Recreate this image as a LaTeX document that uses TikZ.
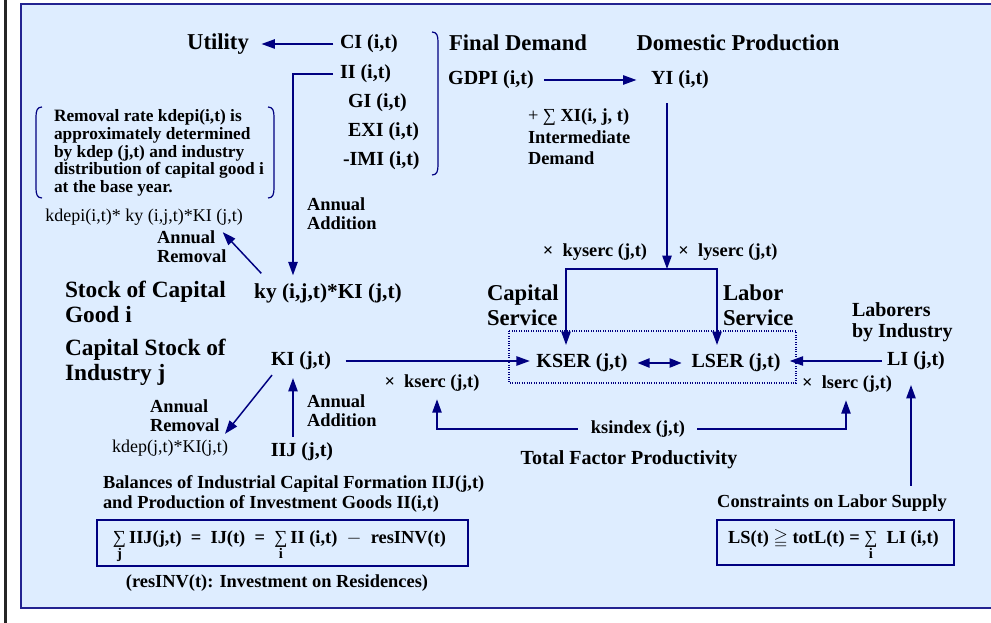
\documentclass[tikz,border=0pt]{standalone}
\usepackage{amsmath,amssymb}
\usepackage{fontspec}
\setmainfont{Liberation Serif}
\usetikzlibrary{arrows.meta,calc}
\definecolor{panelbg}{RGB}{222,237,255}
\definecolor{navyline}{RGB}{0,0,128}
\definecolor{panelborder}{RGB}{35,35,145}
\newcommand\sumlim[1]{\begin{tabular}[t]{@{}c@{}}{\mdseries ∑}\\[-3pt]{\fontsize{11}{11}\selectfont #1}\end{tabular}}
\begin{document}
\begin{tikzpicture}[x=0.75pt,y=-0.75pt,
  every node/.style={inner sep=0pt, outer sep=0pt, text=black},
  big/.style={font=\fontsize{17}{18.75}\selectfont\bfseries},
  mid/.style={font=\fontsize{15}{15.75}\selectfont\bfseries},
  sm/.style={font=\fontsize{13.8}{14.25}\selectfont\bfseries},
  rg/.style={font=\fontsize{13.5}{15}\selectfont},
  ln/.style={draw=navyline, line width=1.1pt},
  arr/.style={ln, -{Triangle[length=10pt,width=7pt]}},
  dbl/.style={ln, {Triangle[length=9pt,width=7pt]}-{Triangle[length=9pt,width=7pt]}},
  brk/.style={draw=navyline, line width=0.9pt},
  fbox/.style={draw=navyline, line width=1.1pt, inner sep=0pt}
]
\useasboundingbox (0,0) rectangle (991,623);
\fill[white] (0,0) rectangle (991,623);
\fill[black!85] (3.5,0) rectangle (6.5,623);
\fill[panelbg] (21,4) rectangle (995,608);
\draw[panelborder, line width=1.5pt] (995,4) -- (21,4) -- (21,608) -- (995,608);

% top block
\node[big] (util) at (218,44) {Utility};
\node[mid, anchor=west] (ci) at (340,44) {CI (i,t)};
\node[mid, anchor=west] (ii) at (340,74) {II (i,t)};
\node[mid, anchor=west] (gi) at (348,103) {GI (i,t)};
\node[mid, anchor=west] (exi) at (348,132) {EXI (i,t)};
\node[mid, anchor=west] (imi) at (343,161) {-IMI (i,t)};
\draw[brk] (432,32) .. controls (437,32) and (438,36) .. (438,42) -- (438,165) .. controls (438,171) and (437,175) .. (432,175);

\node[big] (fd) at (518,43) {Final Demand};
\node[big] (dp) at (738,43) {Domestic Production};
\node[mid] (gdpi) at (491,80) {GDPI (i,t)};
\node[mid] (yi) at (680,80) {YI (i,t)};
\node[anchor=west, align=left, font=\fontsize{13.8}{16}\selectfont\bfseries] (xi) at (528,137) {{\mdseries + ∑} XI(i, j, t)\\Intermediate\\Demand};

% note
\node[anchor=west, align=left, font=\fontsize{13}{13.35}\selectfont\bfseries] (note) at (54,153) {Removal rate kdepi(i,t) is\\approximately determined\\by kdep (j,t) and industry\\distribution of capital good i\\at the base year.};
\draw[brk] (42,107) .. controls (37,107) and (36,111) .. (36,117) -- (36,188) .. controls (36,194) and (37,198) .. (42,198);
\draw[brk] (268,107) .. controls (273,107) and (274,111) .. (274,117) -- (274,188) .. controls (274,194) and (273,198) .. (268,198);

\node[rg] (kdepi) at (144,217) {kdepi(i,t)* ky (i,j,t)*KI (j,t)};
\node[sm, anchor=west, align=left] (ar1) at (157,247) {Annual\\Removal};
\node[sm, anchor=west, align=left] (aa1) at (307,214) {Annual\\Addition};
\node[big, anchor=west, align=left, font=\fontsize{17.5}{18.75}\selectfont\bfseries] (sog) at (65,302) {Stock of Capital\\Good i};
\node[font=\fontsize{16}{17}\selectfont\bfseries] (ky) at (328,293) {ky (i,j,t)*KI (j,t)};
\node[big, anchor=west, align=left, font=\fontsize{17.5}{18.75}\selectfont\bfseries] (csi) at (65,362) {Capital Stock of\\Industry j};
\node[mid] (ki) at (301,361) {KI (j,t)};
\node[sm, anchor=west, align=left] (ar2) at (150,416) {Annual\\Removal};
\node[sm, anchor=west, align=left] (aa2) at (307,411) {Annual\\Addition};
\node[rg] (kdep) at (170,448) {kdep(j,t)*KI(j,t)};
\node[mid] (iij) at (302,452) {IIJ (j,t)};

% services
\node[sm] (kserc) at (432,383) {×\hspace{0.5em}kserc (j,t)};
\node[sm] (ksindex) at (638,429) {ksindex (j,t)};
\node[mid] (tfp) at (629,460) {Total Factor Productivity};
\node[big, anchor=west, align=left] (capsrv) at (487,305) {Capital\\Service};
\node[big, anchor=west, align=left] (labsrv) at (723,305) {Labor\\Service};
\node[sm] (kyserc) at (595,252) {×\hspace{0.5em}kyserc (j,t)};
\node[sm] (lyserc) at (728,252) {×\hspace{0.5em}lyserc (j,t)};
\node[mid] (kser) at (582,363) {KSER (j,t)};
\node[mid] (lser) at (736,363) {LSER (j,t)};
\draw[navyline, densely dotted, line width=0.8pt] (509,331) rectangle (796,383);
\node[mid, anchor=west, align=left] (lbi) at (852,322) {Laborers\\by Industry};
\node[mid] (li) at (916,361) {LI (j,t)};
\node[sm] (lserc) at (847,384) {×\hspace{0.5em}lserc (j,t)};

% bottom
\node[anchor=west, align=left, font=\fontsize{13.8}{15}\selectfont\bfseries] (bal) at (103,494) {Balances of Industrial Capital Formation IIJ(j,t)\\and Production of Investment Goods II(i,t)};
\node[fbox, minimum width=278.25pt, minimum height=34.5pt] (box1) at (282.5,543) {};
\node[sm] (form1) at ($(box1.center)+(-3,4)$) {\sumlim{j}\,IIJ(j,t)\ \ =\ \ IJ(t)\ \ =\ \ \sumlim{i}\,II (i,t)\ \ $-$\ \ resINV(t)};
\node[sm] (resinv) at (277,583) {(resINV(t): Investment on Residences)};
\node[sm] (cls) at (832,503) {Constraints on Labor Supply};
\node[fbox, minimum width=177.75pt, minimum height=33.75pt] (box2) at (835.5,542.5) {};
\node[sm] (form2) at ($(box2.center)+(-2,4)$) {LS(t)\ $\geqq$\ totL(t) = \sumlim{i}\ \ LI (i,t)};

% connectors
\draw[arr, shorten <=5pt, shorten >=9.5pt] (ci.west) -- (util.east);
\draw[arr, shorten <=7.5pt, shorten >=11pt] (gdpi.east) -- (yi.west);
\draw[arr] ($(ii.west)+(-7,0)$) -| ($(ky.north)+(-35,-8)$);
\draw[arr] ($(ky.north west)+(7,-10)$) -- ($(kdepi.south east)+(-20,7)$);
\coordinate (split) at (667,269);
\draw[arr] ($(yi.south)+(-13,14)$) -- (split);
\draw[arr] (split) -| ($(kser.north)+(-16,-9)$);
\draw[arr] (split) -| ($(lser.north)+(-19,-9)$);
\draw[dbl, shorten <=7.5pt, shorten >=7.5pt] (kser.east) -- (lser.west);
\draw[arr, shorten <=4pt, shorten >=7pt] (li.west) -- (li.west -| lser.east);
\draw[arr, shorten <=11pt, shorten >=5pt] (ki.east) -- (ki.east -| kser.west);
\draw[arr] ($(iij.north)+(-9,-6)$) -- ($(ki.south)+(-8,8)$);
\draw[arr] ($(ki.south west)+(1,5)$) -- ($(kdep.north east)+(-3,-6)$);
\draw[arr] ($(ksindex.west)+(-13,0)$) -| ($(kserc.south)+(5,8)$);
\draw[arr] ($(ksindex.east)+(12,0)$) -| ($(lserc.south)+(-1,8)$);
\draw[arr] ($(cls.north -| li.south)+(-5,-9)$) -- ($(li.south)+(-5,15)$);
\end{tikzpicture}
\end{document}
